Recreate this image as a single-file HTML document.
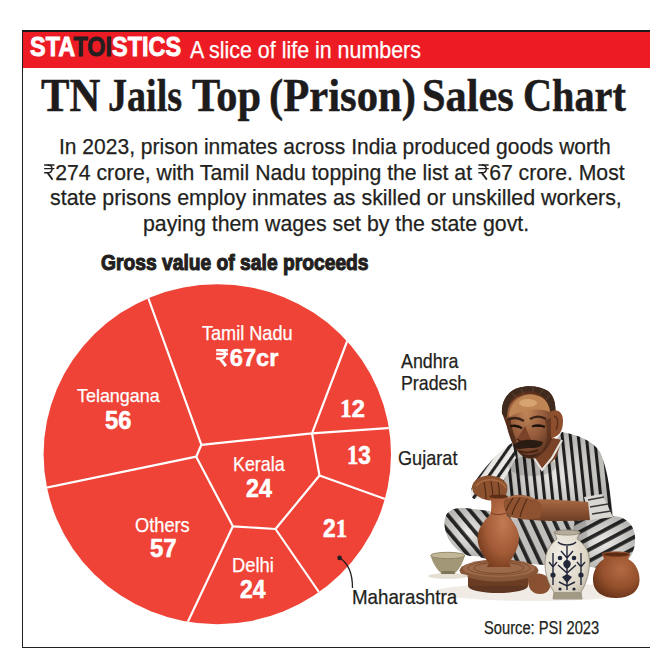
<!DOCTYPE html>
<html><head><meta charset="utf-8">
<style>
html,body{margin:0;padding:0;background:#fff;}
body{width:657px;height:660px;position:relative;overflow:hidden;font-family:"Liberation Sans",sans-serif;}
.t{position:absolute;white-space:nowrap;line-height:1;transform-origin:0 0;}
.rs{width:0.5em;height:0.7em;vertical-align:baseline;overflow:visible;margin-right:0.03em;}
.rsb{width:0.6em;height:0.72em;vertical-align:baseline;overflow:visible;margin-right:0.03em;}
#box{position:absolute;left:22px;top:30px;width:627px;height:615px;border-left:1px solid #231f20;border-top:2px solid #1a1a1a;border-bottom:1px solid #231f20;}
#band{position:absolute;left:23px;top:32px;width:627px;height:36px;background:#ed1c24;}
svg.full{position:absolute;left:0;top:0;}
</style></head><body>
<div id="box"></div>
<div id="band"></div>
<svg class="full" width="657" height="660" viewBox="0 0 657 660">
<defs>
 <clipPath id="pc"><ellipse cx="217.3" cy="454.2" rx="173.7" ry="170"/></clipPath>
</defs>
<ellipse cx="217.3" cy="454.2" rx="173.7" ry="170" fill="#ef4337"/>
<g clip-path="url(#pc)" stroke="#fff" stroke-width="2.2" fill="none" stroke-linejoin="round">
 <polyline points="145,289 201.4,444.8 196.2,456.7 40,488.9"/>
 <polyline points="201.4,444.8 312,433.4 351,331"/>
 <polyline points="312,433.4 396,427.5"/>
 <polyline points="312,433.4 319.5,475.5 392,501.5"/>
 <polyline points="196.2,456.7 232.9,526.3 275.5,529 319.5,475.5"/>
 <polyline points="275.5,529 323,598"/>
 <polyline points="232.9,526.3 184,630"/>
</g>
<circle cx="339.6" cy="557.9" r="2.3" fill="#231f20"/>
<path d="M339.6,557.9 C348,563 352.5,572 352.5,588" fill="none" stroke="#231f20" stroke-width="1.3"/>
<defs>
 <pattern id="vs" patternUnits="userSpaceOnUse" width="8" height="20" patternTransform="rotate(-6)">
  <rect width="8" height="20" fill="#e9e8e4"/><rect x="0" width="3.1" height="20" fill="#242323"/>
 </pattern>
 <pattern id="vs2" patternUnits="userSpaceOnUse" width="8" height="20" patternTransform="rotate(35)">
  <rect width="8" height="20" fill="#e9e8e4"/><rect x="0" width="3.1" height="20" fill="#242323"/>
 </pattern>
 <pattern id="ls" patternUnits="userSpaceOnUse" width="10" height="20" patternTransform="rotate(-40)">
  <rect width="10" height="20" fill="#ecebe7"/><rect x="0" width="3.8" height="20" fill="#2a2929"/>
 </pattern>
 <pattern id="ms" patternUnits="userSpaceOnUse" width="10" height="20" patternTransform="rotate(-25)">
  <rect width="10" height="20" fill="#dcdad5"/><rect x="0" width="3.8" height="20" fill="#2a2929"/>
 </pattern>
 <pattern id="rk" patternUnits="userSpaceOnUse" width="10" height="20" patternTransform="rotate(62)">
  <rect width="10" height="20" fill="#ecebe7"/><rect x="0" width="3.8" height="20" fill="#2a2929"/>
 </pattern>
 <radialGradient id="brown" cx="0.62" cy="0.38" r="0.75">
  <stop offset="0" stop-color="#c27a52"/><stop offset="0.55" stop-color="#a35c37"/><stop offset="1" stop-color="#6e3519"/>
 </radialGradient>
 <radialGradient id="pot2" cx="0.6" cy="0.35" r="0.75">
  <stop offset="0" stop-color="#b46a42"/><stop offset="0.55" stop-color="#94502c"/><stop offset="1" stop-color="#5e2d15"/>
 </radialGradient>
 <radialGradient id="skin" cx="0.45" cy="0.3" r="0.75">
  <stop offset="0" stop-color="#c08658"/><stop offset="0.55" stop-color="#93593a"/><stop offset="1" stop-color="#5a321e"/>
 </radialGradient>
 <linearGradient id="arm" x1="0" y1="0" x2="0" y2="1">
  <stop offset="0" stop-color="#a86a44"/><stop offset="1" stop-color="#6e3d24"/>
 </linearGradient>
 <radialGradient id="wv" cx="0.4" cy="0.35" r="0.75">
  <stop offset="0" stop-color="#f3f0e8"/><stop offset="0.7" stop-color="#ddd6c6"/><stop offset="1" stop-color="#b5ad98"/>
 </radialGradient>
 <radialGradient id="shade" cx="0.5" cy="0.5" r="0.5">
  <stop offset="0" stop-color="#000" stop-opacity="0"/><stop offset="1" stop-color="#000" stop-opacity="0.22"/>
 </radialGradient>
</defs>
<!-- floor shadow -->
<ellipse cx="535" cy="592" rx="100" ry="9" fill="#f0ece5"/>
<!-- middle shin (crossed) -->
<path d="M480,512 L590,508 L600,560 L560,566 L500,562 L470,555 Z" fill="url(#ms)"/>
<!-- left knee -->
<path d="M444.5,524 C444,512 452,507 465,508 L490,511 L492,556 L470,556 C455,552 445,538 444.5,524 Z" fill="url(#ls)"/>
<!-- right knee -->
<path d="M575,522 C588,517 605,514 620,517 C631,521 636,530 635,542 C634,556 626,566 612,569 L580,566 C572,555 570,535 575,522 Z" fill="url(#rk)"/>
<!-- pants shading -->
<path d="M490,520 L585,515 L590,560 L560,566 L500,562 Z" fill="#000" opacity="0.12"/>
<path d="M444.5,524 C444,512 452,507 465,508 L490,511 L492,556 L470,556 C455,552 445,538 444.5,524 Z" fill="url(#shade)"/>
<path d="M575,522 C588,517 605,514 620,517 C631,521 636,530 635,542 C634,556 626,566 612,569 L580,566 C572,555 570,535 575,522 Z" fill="url(#shade)"/>
<!-- torso shirt -->
<path d="M512,443 L530,452 L556,440 L562,432 C578,435 592,440 600,452 C606,465 610,485 613,517 L588,518 L520,518 L505,505 L500,480 Z" fill="url(#vs)"/>
<path d="M512,443 L530,452 L556,440 L562,432 C578,435 592,440 600,452 C606,465 610,485 613,517 L588,518 L520,518 L505,505 L500,480 Z" fill="url(#shade)"/>
<!-- left sleeve -->
<path d="M512,443 C498,452 486,466 476,480 C470,488 469,496 474,499 L492,497 L505,478 L516,458 Z" fill="url(#vs2)"/>
<!-- right sleeve cuff -->
<path d="M584,497 L602,494 L613,517 L590,520 Z" fill="#d9d7d1"/>
<path d="M588,500 L604,497 M590,507 L608,504 M592,514 L611,511" stroke="#3a3838" stroke-width="1.5"/>
<ellipse cx="532" cy="466" rx="24" ry="10" fill="#000" opacity="0.15"/>
<!-- neck -->
<path d="M532,448 L553,438 L562,440 L556,458 L542,470 L534,460 Z" fill="#7a4328"/>
<!-- collar -->
<path d="M530,452 L542,470 L552,458 L562,440" fill="none" stroke="#e5e3dd" stroke-width="2.2"/>
<!-- right forearm -->
<path d="M520,500 C540,498 565,500 588,502 L590,520 C565,522 540,521 520,519 Z" fill="url(#arm)"/>
<!-- head base -->
<path d="M502,413 C501,401 508,391 518,388 C528,385 540,386 548,391 C554,396 556,404 555,413 L553,436 C550,446 545,452 537,458 C530,460 524,458 520,454 C515,449 512,443 510,436 L506,424 Z" fill="#5a301c"/>
<!-- face -->
<path d="M506,419 C506,405 515,395 529,394 C542,394 550,402 551,414 L551,436 C548,446 543,452 536,457 C530,459 524,457 521,453 C516,448 513,442 511,435 Z" fill="url(#skin)"/>
<!-- forehead -->
<path d="M509,414 C511,402 520,395 531,394.5 C542,395 549,401 550,412 C542,408 526,408 509,417 Z" fill="#c08554"/>
<ellipse cx="528" cy="403" rx="9" ry="4" fill="#d9a574" opacity="0.9"/>
<!-- hair -->
<path d="M502,414 C501,401 508,391 518,388 C528,385 540,386 548,391 C554,396 556,404 555.5,413 L551,416 C550,405 546,397 538,393 C530,390 521,391 514,396 C509,401 507,408 507,418 Z" fill="#3f2a1d"/>
<path d="M512,393 L517,398 M521,389 L524,395 M533,387 L533,392 M543,389 L540,394 M550,395 L546,400" stroke="#6a4a34" stroke-width="1" opacity="0.8"/>
<!-- ear -->
<path d="M550,412 C556,408 563,411 563,421 C563,431 559,437 551,438 Z" fill="#8d4f2e"/>
<path d="M554,416 C558,417 559,424 556,430" stroke="#5a2f1b" stroke-width="1.3" fill="none"/>
<!-- left face shadow -->
<path d="M506,419 C507,430 510,440 515,448 L516,440 C513,432 511,425 510,417 Z" fill="#4e2a18" opacity="0.85"/>
<!-- right cheek shadow -->
<path d="M545,420 C548,430 548,442 543,452 L551,438 L551,418 Z" fill="#5a301c" opacity="0.7"/>
<!-- brows/eyes -->
<path d="M508,420 C513,417 519,418 524,421" stroke="#3a2418" stroke-width="2.4" fill="none"/>
<path d="M530,419 C535,416 541,416 546,419" stroke="#3a2418" stroke-width="2.4" fill="none"/>
<path d="M510,426 C514,425 519,426 522,428.5 M532,426.5 C536,425 541,425 545,427" stroke="#21120a" stroke-width="2.2"/>
<!-- nose -->
<path d="M525,426 L517,439 C521,443 528,443 531,440 Z" fill="#7c4328"/>
<path d="M517,439 C521,443 528,443 531,440" stroke="#40210f" stroke-width="1.4" fill="none"/>
<!-- beard stubble -->
<path d="M513,442 C516,450 522,457 529,458 C537,458 544,451 548,441 L546,447 C542,453 535,455 529,455 C521,455 516,450 513,442 Z" fill="#3e2416" opacity="0.9"/>
<!-- mustache -->
<path d="M513,446 C518,439 530,438 543,442 C542,448 535,448 529,448 C522,448 517,451 513,446 Z" fill="#2a1b13"/>
<path d="M519,451 C524,453 532,453 538,450" stroke="#3e1d0f" stroke-width="1.5" fill="none"/>
<!-- left hand on vase -->
<path d="M472,487 C473,480 480,476 489,475.5 C497,475.5 504,479 507,485 C508.5,491 506,497 501,499.5 L490,500.5 C483,500 476,496 473,492 Z" fill="#8c522f"/>
<path d="M476,486 C480,481 487,479 494,480 C500,481 504,484 506,488" stroke="#b07048" stroke-width="1.6" fill="none" opacity="0.8"/>
<path d="M484,482 C485,488 486,493 486,499 M491,481 C492,487 493,493 493,500 M498,482 C499,487 500,492 499,499" stroke="#4e2814" stroke-width="1.1" fill="none"/>
<!-- wheel -->
<ellipse cx="498" cy="586" rx="30" ry="7" fill="#5e3520"/>
<rect x="468" y="576" width="60" height="10" fill="#6a3d23"/>
<ellipse cx="499" cy="570.5" rx="39.5" ry="11" fill="#87573a"/>
<ellipse cx="499" cy="568.5" rx="36" ry="8.5" fill="#9c6a4a"/>
<ellipse cx="499" cy="568" rx="25" ry="5.5" fill="none" stroke="#7a4a2e" stroke-width="1"/>
<ellipse cx="499" cy="568" rx="31" ry="7" fill="none" stroke="#7a4a2e" stroke-width="0.8"/>
<!-- brown vase -->
<path d="M489,496 L508,496 L506,500 C505.5,505 505.5,510 507,515 C513,521 519,529 519,538 C519,548 513,557 509,563 L511,567 L487,567 L489,563 C484,557 477.5,548 477.5,538 C477.5,529 484,521 490,515 C491.5,510 491.5,505 491,500 Z" fill="url(#brown)"/>
<ellipse cx="498.5" cy="496.5" rx="9.5" ry="2" fill="#5e2e16"/>
<path d="M491,513 C495,515 502,515 506,513" stroke="#7a3d20" stroke-width="1" fill="none"/>
<!-- right hand -->
<path d="M504,501 C508,495 518,494 528,496 C535,498 541,502 543,508 L540,518 C530,520 518,519 510,517 C505,513 503,506 504,501 Z" fill="#8e5230"/>
<path d="M508,498 C516,495 526,496 534,499" stroke="#b57650" stroke-width="1.6" fill="none" opacity="0.8"/>
<path d="M513,498 C510,503 507,507 506,511 M520,498 C516,504 513,510 512,515 M527,499 C524,505 521,511 520,517" stroke="#4e2814" stroke-width="1.1" fill="none"/>
<!-- foot -->
<path d="M528,577 C535,571 546,573 550,580 C552,588 548,594 540,594 C532,594 527,588 528,577 Z" fill="#8a5032"/>
<!-- white vase -->
<path d="M554,532 L580,532 L577,539 C586,545 590,553 589.5,564 C589,576 585,586 581,592 L582,599 L553,599 L554,592 C550,586 545,576 545,564 C545,553 549,545 557,539 Z" fill="url(#wv)" stroke="#8d8778" stroke-width="0.8"/>
<path d="M554,592 L581,592 L582,599 L553,599 Z" fill="#a39a86"/>
<ellipse cx="567" cy="532.5" rx="13" ry="2.6" fill="#b5ad9c" stroke="#8a8170" stroke-width="0.8"/>
<g stroke="#23273a" stroke-width="1.4" fill="none">
 <path d="M567,546 L567,590 M561,551 L567,558 L573,551 M558,565 L567,573 L576,565 M559,582 L567,586 L575,582"/>
 <path d="M553,553 L553,585 M549,562 L553,567 L557,562 M581,553 L581,585 M577,562 L581,567 L585,562"/>
 <path d="M558,542 C562,546 572,546 576,542"/>
</g>
<g fill="#23273a">
 <path d="M567,560 C563,560 561,566 567,569 C573,566 571,560 567,560 Z"/>
 <circle cx="560" cy="558" r="2.3"/><circle cx="574" cy="558" r="2.3"/>
 <circle cx="553" cy="575" r="2.6"/><circle cx="581" cy="575" r="2.6"/>
 <path d="M562,577 L567,583 L572,577 L567,574 Z"/>
 <circle cx="560" cy="589" r="1.6"/><circle cx="574" cy="589" r="1.6"/>
</g>
<!-- brown pot -->
<path d="M602,553.5 L630,553.5 L628,559 C636,563 640,572 639.5,581 C639,592 629,598 616,598 C603,598 593.5,592 593,581 C592.5,572 597,563 604,559 Z" fill="url(#pot2)"/>
<ellipse cx="616" cy="554.5" rx="14" ry="2.6" fill="#5e2a12" stroke="#9a5531" stroke-width="1"/>
<!-- small bowl -->
<ellipse cx="448" cy="576" rx="20" ry="3" fill="#e6e0d4"/>
<path d="M430.5,555 L465,555 C463,563 459,570 454,574 L442,574 C437,570 432.5,563 430.5,555 Z" fill="#a19676"/>
<path d="M441,574 L455,574 L454,571 L442,571 Z" fill="#7e7558"/>
<ellipse cx="447.7" cy="555.5" rx="17.3" ry="3.2" fill="#c2b898" stroke="#857c5e" stroke-width="0.8"/>

</svg>
<div class="t" style="left:29.55px;top:33.45px;font-family:'Liberation Sans', sans-serif;font-weight:700;font-size:27.615px;color:#ffffff;transform:scaleX(0.8487);-webkit-text-stroke:0.9px currentColor">STA<span style="color:#231f20">TOI</span>STICS</div>
<div class="t" style="left:190.27px;top:38.80px;font-family:'Liberation Sans', sans-serif;font-weight:400;font-size:23.692px;color:#ffffff;transform:scaleX(0.9042);-webkit-text-stroke:0.25px currentColor">A slice of life in numbers</div>
<div class="t" style="left:40.76px;top:71.70px;font-family:'Liberation Serif', serif;font-weight:700;font-size:46.886px;color:#1d1b1c;transform:scaleX(0.9097);-webkit-text-stroke:0.5px currentColor">TN</div>
<div class="t" style="left:107.97px;top:71.70px;font-family:'Liberation Serif', serif;font-weight:700;font-size:46.886px;color:#1d1b1c;transform:scaleX(0.8131);-webkit-text-stroke:0.5px currentColor">Jails</div>
<div class="t" style="left:191.97px;top:71.70px;font-family:'Liberation Serif', serif;font-weight:700;font-size:46.886px;color:#1d1b1c;transform:scaleX(0.9029);-webkit-text-stroke:0.5px currentColor">Top</div>
<div class="t" style="left:268.80px;top:71.70px;font-family:'Liberation Serif', serif;font-weight:700;font-size:46.886px;color:#1d1b1c;transform:scaleX(0.9104);-webkit-text-stroke:0.5px currentColor">(Prison)</div>
<div class="t" style="left:422.32px;top:71.70px;font-family:'Liberation Serif', serif;font-weight:700;font-size:46.886px;color:#1d1b1c;transform:scaleX(0.9032);-webkit-text-stroke:0.5px currentColor">Sales</div>
<div class="t" style="left:522.58px;top:71.70px;font-family:'Liberation Serif', serif;font-weight:700;font-size:46.886px;color:#1d1b1c;transform:scaleX(0.8592);-webkit-text-stroke:0.5px currentColor">Chart</div>
<div class="t" style="left:59.18px;top:134.90px;font-family:'Liberation Sans', sans-serif;font-weight:400;font-size:22.675px;color:#231f20;transform:scaleX(0.9279);-webkit-text-stroke:0.25px currentColor">In 2023, prison inmates across India produced goods worth</div>
<div class="t" style="left:44.24px;top:160.60px;font-family:'Liberation Sans', sans-serif;font-weight:400;font-size:22.675px;color:#231f20;transform:scaleX(0.9358);-webkit-text-stroke:0.25px currentColor"><svg class="rs" viewBox="0 0 90 130"><g fill="none" stroke="currentColor" stroke-linecap="butt"><path d="M0,9 H90 M0,38 H90 M0,72 H34" stroke-width="12"/><path d="M30,9 C82,9 82,72 30,72" stroke-width="12"/><path d="M30,72 L74,128" stroke-width="16"/></g></svg>274 crore, with Tamil Nadu topping the list at <svg class="rs" viewBox="0 0 90 130"><g fill="none" stroke="currentColor" stroke-linecap="butt"><path d="M0,9 H90 M0,38 H90 M0,72 H34" stroke-width="12"/><path d="M30,9 C82,9 82,72 30,72" stroke-width="12"/><path d="M30,72 L74,128" stroke-width="16"/></g></svg>67 crore. Most</div>
<div class="t" style="left:49.69px;top:186.00px;font-family:'Liberation Sans', sans-serif;font-weight:400;font-size:22.675px;color:#231f20;transform:scaleX(0.9441);-webkit-text-stroke:0.25px currentColor">state prisons employ inmates as skilled or unskilled workers,</div>
<div class="t" style="left:142.52px;top:212.00px;font-family:'Liberation Sans', sans-serif;font-weight:400;font-size:22.675px;color:#231f20;transform:scaleX(0.9406);-webkit-text-stroke:0.25px currentColor">paying them wages set by the state govt.</div>
<div class="t" style="left:101.46px;top:252.00px;font-family:'Liberation Sans', sans-serif;font-weight:700;font-size:22.384px;color:#231f20;transform:scaleX(0.8606);-webkit-text-stroke:1.1px currentColor">Gross value of sale proceeds</div>
<div class="t" style="left:202.20px;top:323.50px;font-family:'Liberation Sans', sans-serif;font-weight:400;font-size:19.622px;color:#ffffff;transform:scaleX(0.9231);-webkit-text-stroke:0.25px currentColor">Tamil Nadu</div>
<div class="t" style="left:215.11px;top:346.03px;font-family:'Liberation Sans', sans-serif;font-weight:700;font-size:23.964px;color:#ffffff;transform:scaleX(0.9849);-webkit-text-stroke:0.5px currentColor"><svg class="rsb" viewBox="0 0 90 130"><g fill="none" stroke="currentColor" stroke-linecap="butt"><path d="M0,9 H90 M0,38 H90 M0,72 H34" stroke-width="19"/><path d="M30,9 C82,9 82,72 30,72" stroke-width="19"/><path d="M30,72 L74,128" stroke-width="22"/></g></svg>67cr</div>
<div class="t" style="left:76.69px;top:386.30px;font-family:'Liberation Sans', sans-serif;font-weight:400;font-size:19.041px;color:#ffffff;transform:scaleX(0.9404);-webkit-text-stroke:0.25px currentColor">Telangana</div>
<div class="t" style="left:104.70px;top:408.10px;font-family:'Liberation Sans', sans-serif;font-weight:700;font-size:25.453px;color:#ffffff;transform:scaleX(0.9292);-webkit-text-stroke:0.6px currentColor">56</div>
<div class="t" style="left:232.65px;top:454.60px;font-family:'Liberation Sans', sans-serif;font-weight:400;font-size:19.477px;color:#ffffff;transform:scaleX(0.9181);-webkit-text-stroke:0.25px currentColor">Kerala</div>
<div class="t" style="left:245.59px;top:476.20px;font-family:'Liberation Sans', sans-serif;font-weight:700;font-size:25.453px;color:#ffffff;transform:scaleX(0.9105);-webkit-text-stroke:0.6px currentColor">24</div>
<div class="t" style="left:135.47px;top:514.80px;font-family:'Liberation Sans', sans-serif;font-weight:400;font-size:20.349px;color:#ffffff;transform:scaleX(0.8966);-webkit-text-stroke:0.25px currentColor">Others</div>
<div class="t" style="left:149.70px;top:536.20px;font-family:'Liberation Sans', sans-serif;font-weight:700;font-size:25.453px;color:#ffffff;transform:scaleX(0.9425);-webkit-text-stroke:0.6px currentColor">57</div>
<div class="t" style="left:232.22px;top:554.60px;font-family:'Liberation Sans', sans-serif;font-weight:400;font-size:20.349px;color:#ffffff;transform:scaleX(0.9042);-webkit-text-stroke:0.25px currentColor">Delhi</div>
<div class="t" style="left:240.09px;top:577.00px;font-family:'Liberation Sans', sans-serif;font-weight:700;font-size:25.453px;color:#ffffff;transform:scaleX(0.8998);-webkit-text-stroke:0.6px currentColor">24</div>
<div class="t" style="left:339.64px;top:396.55px;font-family:'Liberation Sans', sans-serif;font-weight:700;font-size:24.664px;color:#ffffff;transform:scaleX(0.9585);-webkit-text-stroke:0.6px currentColor"><span style="font-family:'Liberation Serif',serif">1</span>2</div>
<div class="t" style="left:347.10px;top:442.05px;font-family:'Liberation Sans', sans-serif;font-weight:700;font-size:26.320px;color:#ffffff;transform:scaleX(0.8552);-webkit-text-stroke:0.6px currentColor"><span style="font-family:'Liberation Serif',serif">1</span>3</div>
<div class="t" style="left:322.60px;top:515.72px;font-family:'Liberation Sans', sans-serif;font-weight:700;font-size:25.737px;color:#ffffff;transform:scaleX(0.8836);-webkit-text-stroke:0.6px currentColor">2<span style="font-family:'Liberation Serif',serif">1</span></div>
<div class="t" style="left:400.67px;top:351.50px;font-family:'Liberation Sans', sans-serif;font-weight:400;font-size:19.768px;color:#231f20;transform:scaleX(0.9024);-webkit-text-stroke:0.25px currentColor">Andhra</div>
<div class="t" style="left:400.56px;top:373.70px;font-family:'Liberation Sans', sans-serif;font-weight:400;font-size:19.622px;color:#231f20;transform:scaleX(0.9066);-webkit-text-stroke:0.25px currentColor">Pradesh</div>
<div class="t" style="left:398.15px;top:447.60px;font-family:'Liberation Sans', sans-serif;font-weight:400;font-size:20.204px;color:#231f20;transform:scaleX(0.8978);-webkit-text-stroke:0.25px currentColor">Gujarat</div>
<div class="t" style="left:351.59px;top:587.50px;font-family:'Liberation Sans', sans-serif;font-weight:400;font-size:19.477px;color:#231f20;transform:scaleX(0.9610);-webkit-text-stroke:0.25px currentColor">Maharashtra</div>
<div class="t" style="left:484.30px;top:619.70px;font-family:'Liberation Sans', sans-serif;font-weight:400;font-size:17.442px;color:#231f20;transform:scaleX(0.8428);-webkit-text-stroke:0.25px currentColor">Source: PSI 2023</div>
</body></html>
